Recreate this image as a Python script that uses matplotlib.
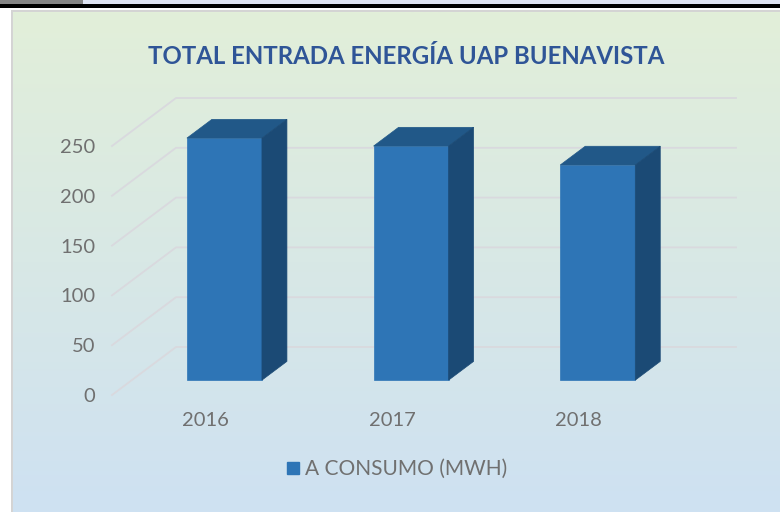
import numpy as np
import matplotlib
matplotlib.use('Agg')
import matplotlib.pyplot as plt
from matplotlib.lines import Line2D
from matplotlib.patches import Rectangle

years = ['2016', '2017', '2018']
consumo = [243, 235, 216]
y_ticks = [0, 50, 100, 150, 200, 250]

W, H = 780, 512
BLUE_FRONT = '#2e75b6'
BLUE_TOP = '#215888'
BLUE_SIDE = '#1b4a75'
GRID = '#d9d9de'
TEXT = '#707070'

# oblique depth of the fake 3D box, in data units
DEPTH_X = 0.343
DEPTH_Y = 48.2
BAR_WIDTH = 0.402
BAR_D0, BAR_D1 = 0.31, 0.70


def px_rect(x0, y0, x1, y1):
    return [x0 / W, 1 - y1 / H, (x1 - x0) / W, (y1 - y0) / H]


def shift(x, y, d):
    return x + d * DEPTH_X, y + d * DEPTH_Y


plt.rcParams['font.family'] = ['Lato', 'DejaVu Sans']
fig = plt.figure(figsize=(W / 100, H / 100), dpi=100, facecolor='white')

# background gradient of the chart area
bg = fig.add_axes(px_rect(13, 12, 780, 512))
bg.set_axis_off()
top = np.array([0xe2, 0xef, 0xd9]) / 255
bottom = np.array([0xce, 0xe1, 0xf2]) / 255
t = np.linspace(0, 1, 256)[:, None, None]
bg.imshow(top * (1 - t) + bottom * t, aspect='auto', extent=(0, 1, 0, 1))

# screenshot edges
for rect, color in [((0, 0, 780, 4), '#dfe4f3'), ((0, 0, 83, 4), '#858585'),
                    ((0, 4, 780, 8), '#000000'), ((11, 10, 780, 12), '#d4d4d4'),
                    ((11, 10, 13, 512), '#d4d4d4')]:
    fig.add_artist(Rectangle((rect[0] / W, 1 - rect[3] / H), (rect[2] - rect[0]) / W,
                             (rect[3] - rect[1]) / H, transform=fig.transFigure,
                             facecolor=color, edgecolor='none'))

ax = fig.add_axes(px_rect(112, 146, 672, 395))
ax.patch.set_alpha(0)
ax.set_xlim(-0.5, 2.5)
ax.set_ylim(0, 250)
for s in ax.spines.values():
    s.set_visible(False)

# floor/wall gridlines
for v in y_ticks:
    bx, by = shift(-0.5, v, 1)
    ax.plot([-0.5, bx, 2.5 + DEPTH_X], [v, by, by], color=GRID, lw=1.3, clip_on=False, zorder=1)

# bars, drawn as three faces
for i, val in enumerate(consumo):
    xl, xr = i - BAR_WIDTH / 2 - 0.004, i + BAR_WIDTH / 2 - 0.004
    fl, fb = shift(xl, 0, BAR_D0)
    fr, ft = shift(xr, val, BAR_D0)
    bl, bt = shift(xl, val, BAR_D1)
    br, bb = shift(xr, 0, BAR_D1)
    ax.fill([fl, fr, fr, fl], [fb, fb, ft, ft], color=BLUE_FRONT, lw=0.5, clip_on=False, zorder=3)
    ax.fill([fl, bl, br, fr], [ft, bt, bt, ft], color=BLUE_TOP, lw=0.5, clip_on=False, zorder=3)
    ax.fill([fr, br, br, fr], [fb, bb, bt, ft], color=BLUE_SIDE, lw=0.5, clip_on=False, zorder=3)

ax.set_xticks(range(len(years)), years)
ax.set_yticks(y_ticks)
ax.tick_params(axis='both', length=0, labelsize=14.5, labelcolor=TEXT)
ax.tick_params(axis='y', pad=12)
ax.tick_params(axis='x', pad=12)

fig.text(406 / W, 1 - 57 / H, 'TOTAL ENTRADA ENERGÍA UAP BUENAVISTA', ha='center', va='center',
         fontsize=17.3, fontweight='bold', color='#2f5597')

handle = Line2D([], [], ls='none', marker='s', ms=8, color=BLUE_FRONT)
fig.legend([handle], ['A CONSUMO (MWH)'], loc='center', bbox_to_anchor=(396 / W, 1 - 469 / H),
           frameon=False, fontsize=15, labelcolor=TEXT, handlelength=0.8, handletextpad=0.2)

fig.savefig('out.png', dpi=100)
